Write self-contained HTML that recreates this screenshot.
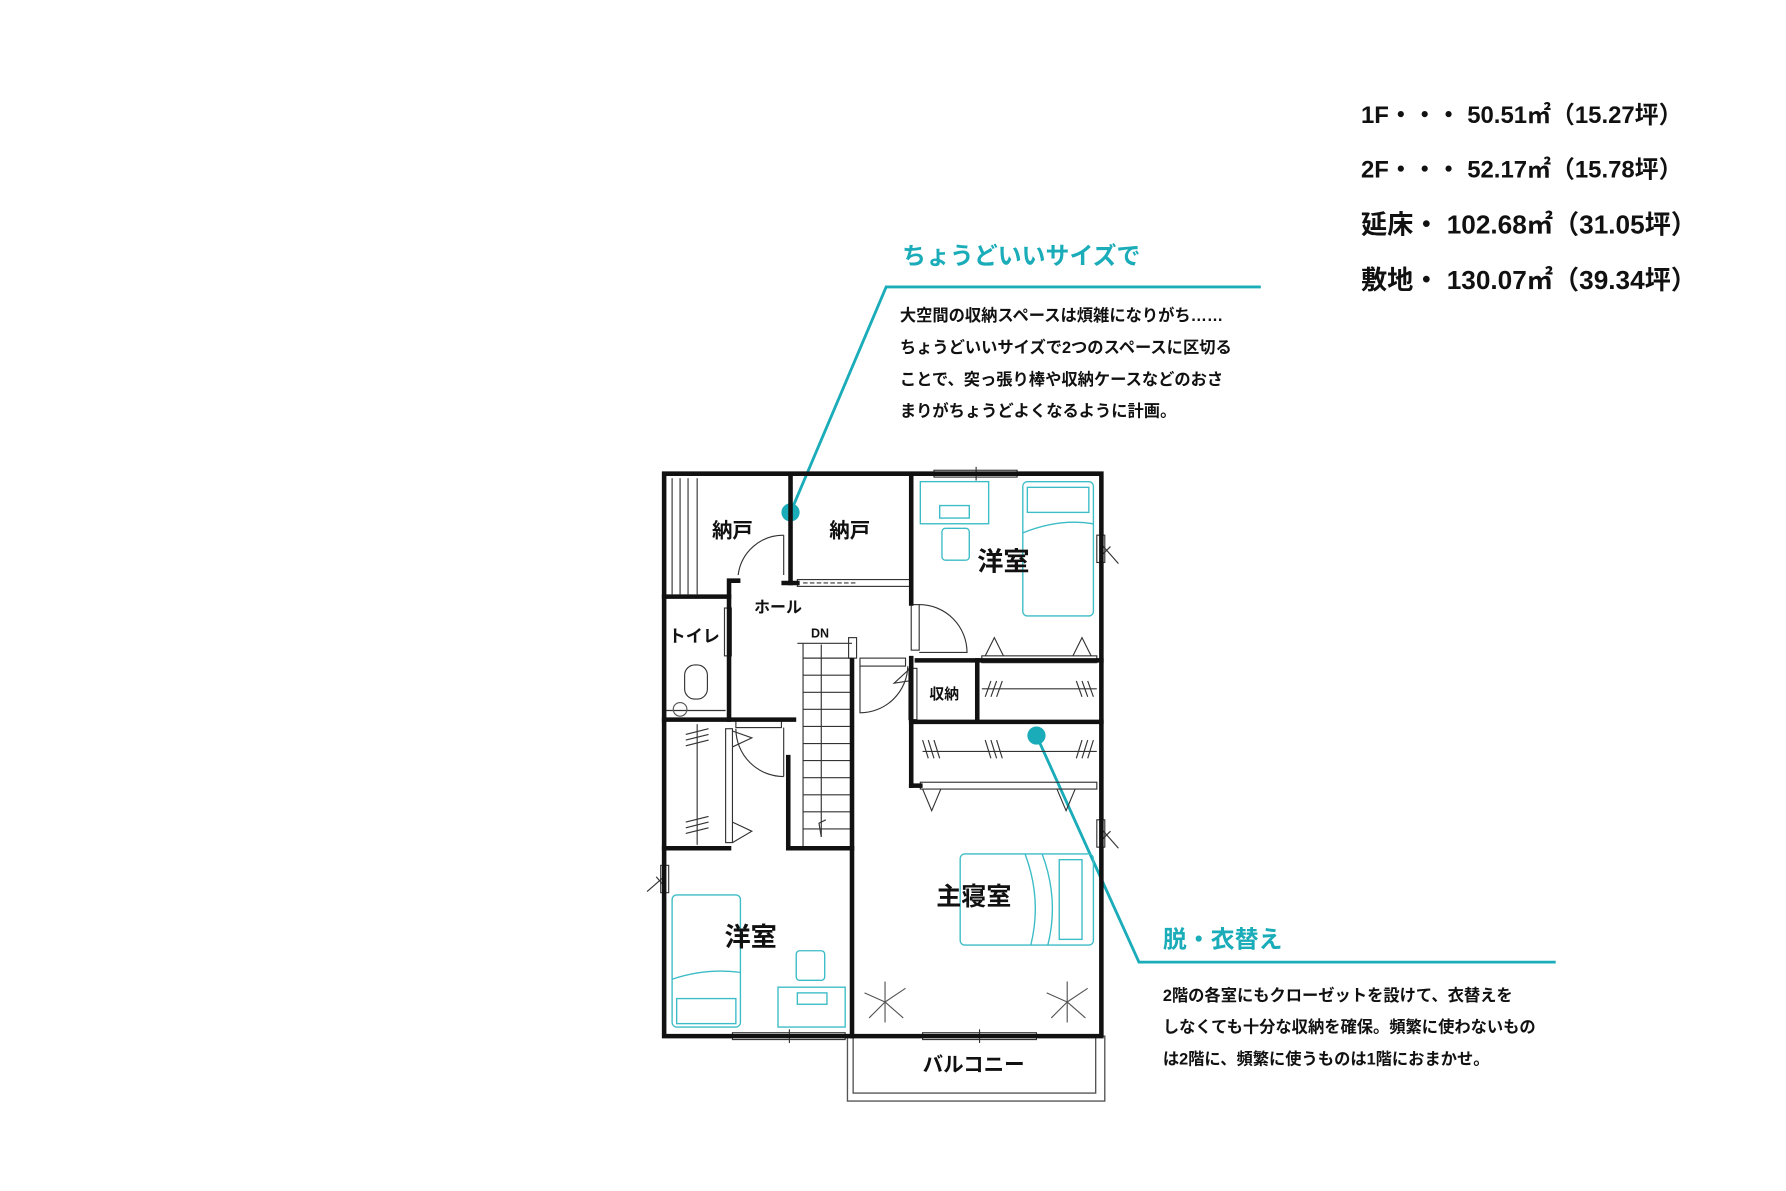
<!DOCTYPE html>
<html><head><meta charset="utf-8"><style>
html,body{margin:0;padding:0;background:#fff;}
svg{display:block}
text{font-family:"Liberation Sans","Noto Sans CJK JP",sans-serif;font-weight:bold;}
</style></head><body>
<svg width="1786" height="1191" viewBox="0 0 1568 1046" xmlns="http://www.w3.org/2000/svg">
<rect width="1568" height="1046" fill="#fff"/>
<!-- area text -->
<g font-size="21" fill="#111">
<text x="1195" y="108">1F・・・ 50.51㎡（15.27坪）</text>
<text x="1195" y="156">2F・・・ 52.17㎡（15.78坪）</text>
<text x="1195" y="205" font-size="23">延床・ 102.68㎡（31.05坪）</text>
<text x="1195" y="254" font-size="23">敷地・ 130.07㎡（39.34坪）</text>
</g>
<!-- callout 1 -->
<text x="792" y="232" font-size="21" fill="#1aacb8">ちょうどいいサイズで</text>
<polyline points="1107,252 778,252 694,450" fill="none" stroke="#1aacb8" stroke-width="2.5"/>
<circle cx="694" cy="450" r="8" fill="#1aacb8"/>
<g font-size="14.3" fill="#111">
<text x="790" y="282">大空間の収納スペースは煩雑になりがち……</text>
<text x="790" y="310">ちょうどいいサイズで2つのスペースに区切る</text>
<text x="790" y="338">ことで、突っ張り棒や収納ケースなどのおさ</text>
<text x="790" y="366">まりがちょうどよくなるように計画。</text>
</g>
<!-- callout 2 -->
<text x="1021" y="832" font-size="21" fill="#1aacb8">脱・衣替え</text>
<polyline points="1366,845 1000,845 910,646" fill="none" stroke="#1aacb8" stroke-width="2.5"/>
<circle cx="910" cy="646" r="8" fill="#1aacb8"/>
<g font-size="14.3" fill="#111">
<text x="1021" y="879">2階の各室にもクローゼットを設けて、衣替えを</text>
<text x="1021" y="907">しなくても十分な収納を確保。頻繁に使わないもの</text>
<text x="1021" y="935">は2階に、頻繁に使うものは1階におまかせ。</text>
</g>
<!-- balcony -->
<rect x="744" y="910" width="226" height="57" fill="none" stroke="#555" stroke-width="1.2"/>
<rect x="749" y="910" width="213" height="50" fill="none" stroke="#555" stroke-width="1.2"/>
<!-- teal furniture -->
<g fill="none" stroke="#3bbcc6" stroke-width="1.2">
<rect x="898" y="423" width="62" height="118" rx="4"/>
<rect x="902" y="428" width="54" height="22"/>
<path d="M898 468 Q930 455 960 460"/>
<rect x="808" y="423" width="60" height="37"/>
<rect x="825" y="444" width="26" height="11"/>
<rect x="827" y="464" width="24" height="28" rx="3"/>
<rect x="843" y="750" width="117" height="80" rx="4"/>
<rect x="930" y="755" width="20" height="70"/>
<path d="M900 750 Q915 790 905 830 M915 750 Q930 790 920 830"/>
<rect x="590" y="786" width="60" height="116" rx="4"/>
<rect x="594" y="877" width="52" height="22"/>
<path d="M590 860 Q620 850 650 854"/>
<rect x="683" y="867" width="59" height="35"/>
<rect x="700" y="872" width="26" height="10"/>
<rect x="699" y="835" width="25" height="26" rx="3"/>
</g>
<!-- thin lines -->
<g fill="none" stroke="#333" stroke-width="1">
<line x1="590" y1="420" x2="590" y2="522"/><line x1="597" y1="420" x2="597" y2="522"/><line x1="604" y1="420" x2="604" y2="522"/><line x1="612" y1="420" x2="612" y2="522"/>
<path d="M648 505 A40 40 0 0 1 688 470"/>
<line x1="688" y1="470" x2="688" y2="505"/>
<rect x="636" y="534" width="6" height="42"/>
<line x1="639" y1="576" x2="639" y2="625" stroke-dasharray="4 3"/>
<rect x="601" y="584" width="20" height="30" rx="9"/>
<line x1="583" y1="624" x2="637" y2="624"/>
<rect x="646" y="632" width="40" height="7"/>
<path d="M646 640 A42 42 0 0 0 688 682"/><line x1="688" y1="639" x2="688" y2="682"/>
<rect x="637" y="640" width="6" height="100"/>
<path d="M643 642 L660 648 L643 656 M643 722 L660 730 L643 740"/>
<line x1="612" y1="636" x2="612" y2="742"/>
<path d="M602 645 l20 -5 M602 650 l20 -5 M602 655 l20 -5 M602 722 l20 -5 M602 727 l20 -5 M602 732 l20 -5"/>
<line x1="700" y1="565" x2="748" y2="565"/>
<line x1="705" y1="565" x2="705" y2="745"/>
<g>
<line x1="705" y1="578" x2="748" y2="578"/><line x1="705" y1="593" x2="748" y2="593"/><line x1="705" y1="608" x2="748" y2="608"/><line x1="705" y1="623" x2="748" y2="623"/><line x1="705" y1="638" x2="748" y2="638"/><line x1="705" y1="653" x2="748" y2="653"/><line x1="705" y1="668" x2="748" y2="668"/><line x1="705" y1="683" x2="748" y2="683"/><line x1="705" y1="698" x2="748" y2="698"/><line x1="705" y1="713" x2="748" y2="713"/><line x1="705" y1="728" x2="748" y2="728"/>
</g>
<line x1="721" y1="566" x2="721" y2="735"/><path d="M721 735 l-2 -12 l6 -3"/>
<rect x="745" y="560" width="7" height="18"/>
<rect x="755" y="578" width="40" height="7"/>
<path d="M755 585 L755 626 A42 42 0 0 0 797 585"/>
<rect x="798" y="587" width="7" height="45"/>
<path d="M798 588 L785 600 L798 598"/>
<rect x="800" y="531" width="7" height="40"/>
<path d="M807 531 A42 42 0 0 1 849 573 L807 573"/>
<rect x="820" y="413" width="73" height="6"/>
<line x1="857" y1="410" x2="857" y2="422"/>
<rect x="643" y="907" width="99" height="6"/><line x1="693" y1="904" x2="693" y2="916"/>
<rect x="810" y="907" width="100" height="6"/><line x1="860" y1="904" x2="860" y2="916"/>
<rect x="963" y="470" width="7" height="24"/><path d="M967 478 L982 495 M967 488 L975 480"/>
<rect x="963" y="720" width="7" height="24"/><path d="M967 728 L982 745 M967 738 L975 730"/>
<rect x="580" y="760" width="7" height="24"/><path d="M583 770 L568 783 M583 778 L576 770"/>
<rect x="700" y="509" width="100" height="6"/>
<line x1="705" y1="512" x2="752" y2="512" stroke-dasharray="4 2"/>
<rect x="862" y="576" width="101" height="6"/>
<path d="M865 576 L873 560 L881 576 M942 576 L950 560 L958 576"/>
<line x1="862" y1="605" x2="963" y2="605"/><line x1="810" y1="660" x2="963" y2="660"/>
<path d="M865 612 l5 -14 M870 612 l5 -14 M875 612 l5 -14 M945 598 l5 14 M950 598 l5 14 M955 598 l5 14"/>
<path d="M810 650 l5 16 M815 650 l5 16 M820 650 l5 16 M865 650 l5 16 M870 650 l5 16 M875 650 l5 16 M945 666 l5 -16 M950 666 l5 -16 M955 666 l5 -16"/>
<rect x="808" y="687" width="155" height="6"/>
<path d="M810 693 L818 712 L826 693 M928 693 L936 712 L944 693"/>
</g>
<!-- plants -->
<g stroke="#555" stroke-width="1" fill="none">
<path d="M777 880 l-18 -8 M777 880 l18 -12 M777 880 l-14 14 M777 880 l16 14 M777 880 l0 -18 M777 880 l0 18"/>
<path d="M937 880 l-18 -8 M937 880 l18 -12 M937 880 l-14 14 M937 880 l16 14 M937 880 l0 -18 M937 880 l0 18"/>
<circle cx="597" cy="623" r="6"/>
</g>
<!-- thick walls -->
<g stroke="#111" stroke-width="4" fill="none" stroke-linecap="square">
<polyline points="583,416 967,416 967,910 583,910 583,416"/>
<line x1="694" y1="418" x2="694" y2="512"/>
<line x1="688" y1="512" x2="700" y2="512"/>
<line x1="800" y1="418" x2="800" y2="530"/>
<line x1="583" y1="524" x2="640" y2="524"/>
<polyline points="648,510 640,510 640,632"/>
<line x1="583" y1="632" x2="697" y2="632"/>
<line x1="583" y1="745" x2="640" y2="745"/>
<polyline points="692,665 692,745 748,745"/>
<line x1="748" y1="580" x2="748" y2="910"/>
<line x1="800" y1="578" x2="800" y2="690"/>
<line x1="805" y1="580" x2="967" y2="580"/>
<line x1="858" y1="580" x2="858" y2="632"/>
<line x1="800" y1="634" x2="967" y2="634"/>
<line x1="800" y1="690" x2="808" y2="690"/>
</g>
<!-- labels -->
<g fill="#111">
<text x="625" y="472" font-size="18">納戸</text>
<text x="728" y="472" font-size="18">納戸</text>
<text x="662" y="538" font-size="14">ホール</text>
<text x="712" y="560" font-size="11">DN</text>
<text x="587" y="564" font-size="15">トイレ</text>
<text x="816" y="614" font-size="13">収納</text>
<text x="858" y="501" font-size="23">洋室</text>
<text x="822" y="795" font-size="22">主寝室</text>
<text x="636" y="831" font-size="23">洋室</text>
<text x="810" y="941" font-size="18">バルコニー</text>
</g>
</svg>
</body></html>
